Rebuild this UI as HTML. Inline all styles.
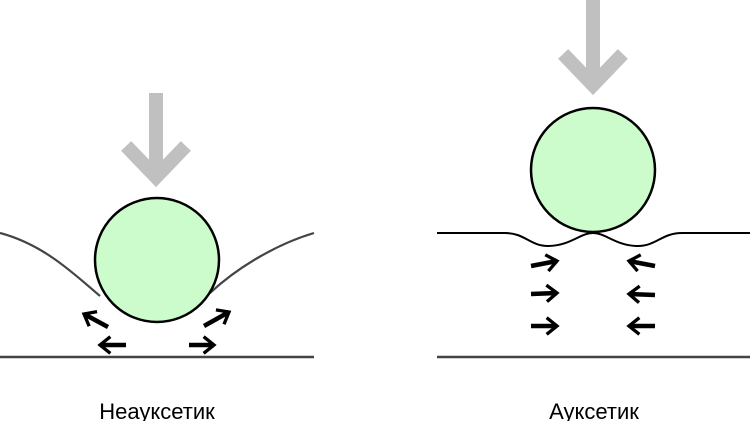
<!DOCTYPE html>
<html><head><meta charset="utf-8"><style>
body{margin:0;background:#fff}
svg text{font-family:"Liberation Sans",sans-serif;font-size:22px;fill:#000}
</style></head><body>
<svg width="750" height="421" viewBox="0 0 750 421" xmlns="http://www.w3.org/2000/svg">
<defs>
<marker id="ah" viewBox="0 0 10 10" refX="6" refY="5" markerWidth="4.6" markerHeight="4.6" orient="auto" markerUnits="strokeWidth">
<path d="M1,1 L6,5 L1,9" fill="none" stroke="#000" stroke-width="1.6"/>
</marker>
</defs>
<!-- left -->
<g stroke="#c0c0c0" stroke-width="14" fill="none">
<line x1="156" y1="93" x2="156" y2="178"/>
<polyline points="131,151 156,177 181,151" stroke-linecap="square"/>
</g>
<path d="M0,233 C45,245 75,275 100,296" stroke="#444" stroke-width="2.2" fill="none"/>
<path d="M210,293 C240,265 280,243 314,233" stroke="#444" stroke-width="2.2" fill="none"/>
<line x1="0" y1="357" x2="314" y2="357" stroke="#444" stroke-width="2.5"/>
<circle cx="157" cy="260" r="62" fill="#ccfccc" stroke="#000" stroke-width="2.5"/>
<g stroke="#000" stroke-width="4.5" fill="none" marker-end="url(#ah)">
<line x1="108" y1="327" x2="84" y2="314"/>
<line x1="126" y1="345" x2="100" y2="345"/>
<line x1="189" y1="345" x2="214" y2="345"/>
<line x1="204" y1="326" x2="229" y2="312"/>
</g>
<text x="157" y="419" text-anchor="middle">Неауксетик</text>
<!-- right -->
<g stroke="#c0c0c0" stroke-width="14" fill="none">
<line x1="593" y1="0" x2="593" y2="86"/>
<polyline points="568,59 593,85 618,59" stroke-linecap="square"/>
</g>
<line x1="437" y1="357" x2="750" y2="357" stroke="#444" stroke-width="2.5"/>
<circle cx="593" cy="170" r="62" fill="#ccfccc" stroke="#000" stroke-width="2.5"/>
<path d="M437,233 L505,233 C525,233 530,246 548,246 C570,246 580,233 593,233 C606,233 616,246 638,246 C656,246 662,233 682,233 L750,233" stroke="#000" stroke-width="2" fill="none"/>
<g stroke="#000" stroke-width="4.5" fill="none" marker-end="url(#ah)">
<line x1="531" y1="266" x2="557" y2="261"/>
<line x1="531" y1="294" x2="557" y2="293"/>
<line x1="531" y1="326" x2="557" y2="326"/>
<line x1="655" y1="266" x2="629" y2="261"/>
<line x1="655" y1="295" x2="629" y2="294"/>
<line x1="655" y1="326" x2="629" y2="326"/>
</g>
<text x="594" y="419" text-anchor="middle">Ауксетик</text>
</svg>
</body></html>
